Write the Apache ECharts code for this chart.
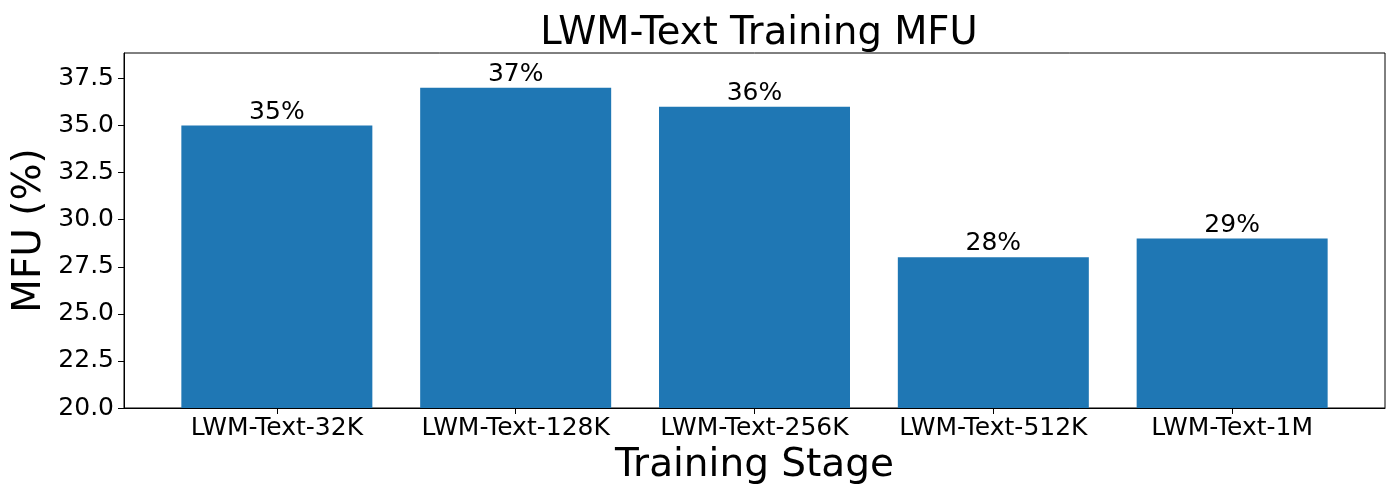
<!DOCTYPE html>
<html>
<head>
<meta charset="utf-8">
<script src="https://cdn.jsdelivr.net/npm/echarts@6/dist/echarts.min.js"></script>
<style>
  html, body { margin: 0; padding: 0; background: #fff; }
  #chart { width: 1400px; height: 500px; }
</style>
</head>
<body>
<div id="chart"></div>
<script>
const stages = ['LWM-Text-32K', 'LWM-Text-128K', 'LWM-Text-256K', 'LWM-Text-512K', 'LWM-Text-1M'];
const mfu = [35, 37, 36, 28, 29];
const yTicks = [20, 22.5, 25, 27.5, 30, 32.5, 35, 37.5];
const xTicks = [0, 1, 2, 3, 4];

const chart = echarts.init(document.getElementById('chart'));
const font = 'DejaVu Sans';

const option = {
    animation: false,
    title: {
        text: 'LWM-Text Training MFU',
        left: 754,
        textAlign: 'center',
        top: 9,
        textStyle: { fontFamily: font, fontSize: 38.5, fontWeight: 'normal', color: '#000' }
    },
    grid: {
        left: 124, right: 15, top: 53, bottom: 92,
        show: true, borderColor: '#000', borderWidth: 1
    },
    xAxis: {
        type: 'value',
        min: -0.64,
        max: 4.64,
        name: 'Training Stage',
        nameLocation: 'middle',
        nameGap: 38,
        nameTextStyle: { fontFamily: font, fontSize: 39, color: '#000' },
        axisLine: { show: true, onZero: false, lineStyle: { color: '#000', width: 1 } },
        axisTick: { show: true, customValues: xTicks, length: 6, lineStyle: { color: '#000' } },
        axisLabel: {
            customValues: xTicks,
            formatter: v => stages[Math.round(v)],
            fontFamily: font, fontSize: 25, color: '#000', margin: 8
        },
        splitLine: { show: false }
    },
    yAxis: {
        type: 'value',
        min: 20,
        max: 38.85,
        name: 'MFU (%)',
        nameLocation: 'middle',
        nameGap: 75,
        nameMoveOverlap: false,
        nameTextStyle: { fontFamily: font, fontSize: 39, color: '#000' },
        axisLine: { show: true, onZero: false, lineStyle: { color: '#000', width: 1 } },
        axisTick: { show: true, customValues: yTicks, length: 6, lineStyle: { color: '#000' } },
        axisLabel: {
            customValues: yTicks,
            formatter: v => v.toFixed(1),
            fontFamily: font, fontSize: 25, color: '#000', margin: 10
        },
        splitLine: { show: false }
    },
    series: [{
        type: 'bar',
        data: mfu.map((v, i) => [i, v]),
        barWidth: 191,
        itemStyle: { color: '#1f77b4' },
        label: {
            show: true,
            position: 'top',
            distance: 1,
            formatter: p => p.value[1] + '%',
            fontFamily: font, fontSize: 25, color: '#000'
        }
    }]
};

chart.setOption(option);
</script>
</body>
</html>
